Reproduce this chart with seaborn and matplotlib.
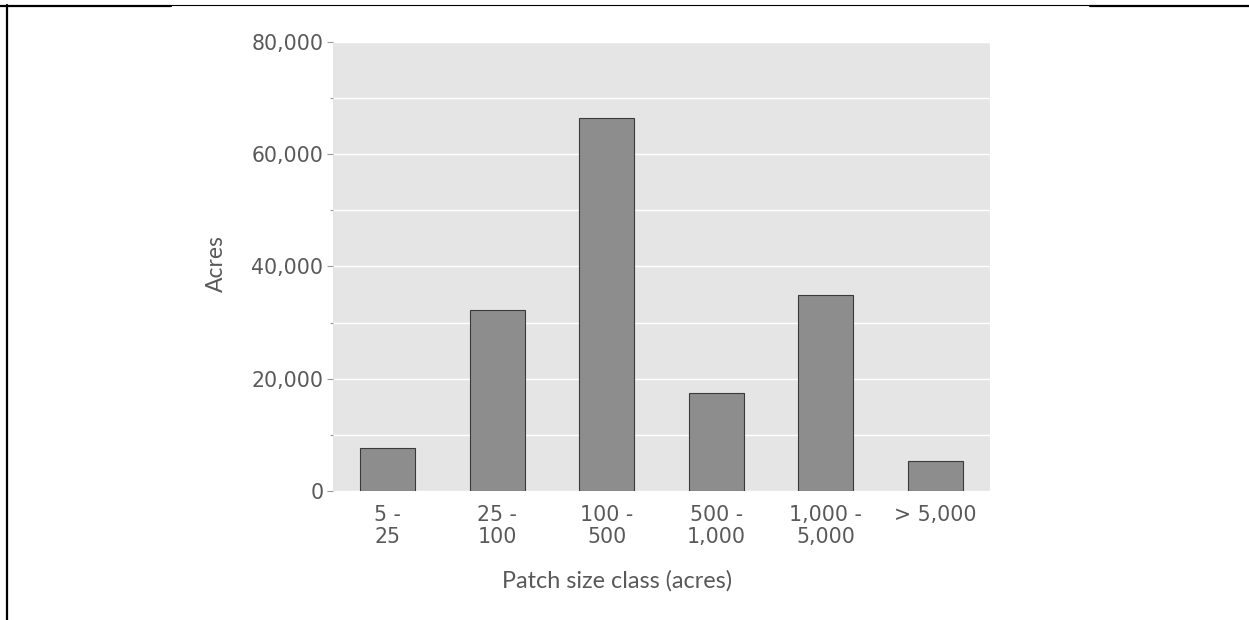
import matplotlib
matplotlib.use("Agg")
import matplotlib.pyplot as plt
import matplotlib.ticker as mticker
from matplotlib.lines import Line2D
import seaborn as sns
import pandas as pd

# values
size_classes = ["5 -\n25", "25 -\n100", "100 -\n500", "500 -\n1,000", "1,000 -\n5,000", "> 5,000"]
acres = [7700, 32300, 66400, 17500, 34900, 5300]

df = pd.DataFrame({"Patch size class (acres)": size_classes, "Acres": acres})

sns.set_theme(style="darkgrid")
plt.rcParams['font.family'] = ['DejaVu Sans']

fig = plt.figure(figsize=(12.49, 6.2), dpi=100)
ax = fig.add_axes([0.2666, 0.2081, 0.526, 0.7242])

sns.barplot(data=df, x="Patch size class (acres)", y="Acres", ax=ax,
            color="#8d8d8d", saturation=1, width=0.5,
            edgecolor="#3a3a3a", linewidth=0.8)

ax.set_facecolor("#e5e5e5")
ax.set_ylim(0, 80000)
ax.yaxis.set_major_locator(mticker.MultipleLocator(20000))
ax.yaxis.set_minor_locator(mticker.MultipleLocator(10000))
ax.yaxis.set_major_formatter(mticker.FuncFormatter(lambda v, p: f"{int(v):,}"))
ax.grid(True, which="both", axis="y", color="white", linewidth=1)
ax.grid(False, axis="x")
for s in ax.spines.values():
    s.set_visible(False)

ax.tick_params(axis="y", which="both", left=True, length=4, width=0.8,
               color="#999999", labelsize=14.8, labelcolor="#595959", pad=3)
ax.tick_params(axis="y", which="minor", length=2)
ax.tick_params(axis="x", bottom=False, labelsize=14.8, labelcolor="#595959", pad=4)
for lbl in ax.get_xticklabels():
    lbl.set_linespacing(1.12)

label_font = ['Lato', 'DejaVu Sans']
ax.set_xlabel("Patch size class (acres)", fontsize=16.8, color="#595959", family=label_font)
ax.set_ylabel("Acres", fontsize=16.5, color="#595959", family=label_font)
ax.xaxis.label.set_va("center")
ax.yaxis.label.set_va("center")
ax.xaxis.set_label_coords(0.432, -0.2)
ax.yaxis.set_label_coords(-0.178, 0.506)

# page border pieces from the source document
fig.add_artist(Line2D([0.0056, 0.0056], [0.992, 0.0], transform=fig.transFigure, color="black", lw=1.6))
fig.add_artist(Line2D([0.0, 0.137], [0.991, 0.991], transform=fig.transFigure, color="black", lw=1.6))
fig.add_artist(Line2D([0.137, 0.873], [0.992, 0.992], transform=fig.transFigure, color="black", lw=0.8))
fig.add_artist(Line2D([0.873, 1.0], [0.991, 0.991], transform=fig.transFigure, color="black", lw=1.6))

fig.savefig("out.png", dpi=100, facecolor="white")
